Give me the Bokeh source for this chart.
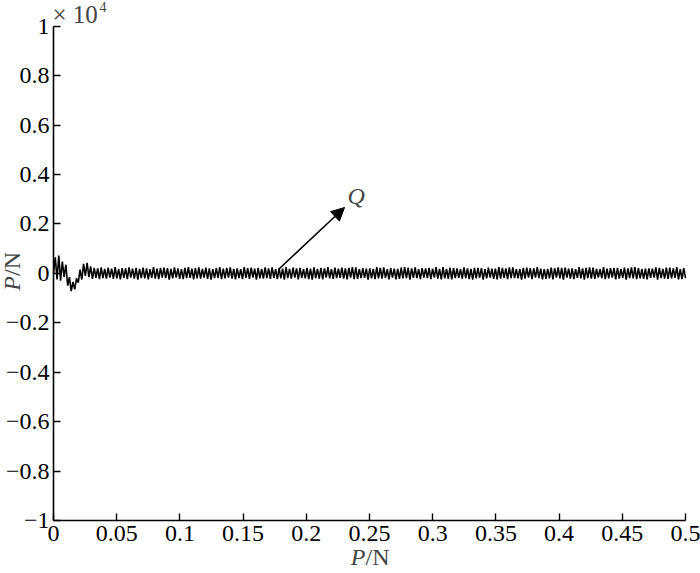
import numpy as np
from bokeh.plotting import figure
from bokeh.models import Label, Arrow, NormalHead, FixedTicker, Range1d
from bokeh.embed import file_html
from bokeh.resources import INLINE

# ---------------- data ----------------
x_ticks = [0, 0.05, 0.1, 0.15, 0.2, 0.25, 0.3, 0.35, 0.4, 0.45, 0.5]
x_tick_labels = ["0", "0.05", "0.1", "0.15", "0.2", "0.25", "0.3", "0.35", "0.4", "0.45", "0.5"]
y_ticks = [-1, -0.8, -0.6, -0.4, -0.2, 0, 0.2, 0.4, 0.6, 0.8, 1]
y_tick_labels = ["\u22121", "\u22120.8", "\u22120.6", "\u22120.4", "\u22120.2", "0",
                 "0.2", "0.4", "0.6", "0.8", "1"]

# start-up transient (N), sampled every 0.0014 s
transient_force = [0, 650, -250, 720, -300, 480, -150, 350, -500, -150, -720, -350,
                   -650, -200, -380, 150, -250, 380, -100, 420, -150, 280, -220]
# steady oscillation extremes (N) up to t = 0.5 s
steady_force = [
    220, -180, 200, -230, 240, -190, 180, -210, 230, -170,
    190, -220, 250, -200, 170, -240, 210, -180, 200, -230,
    240, -170, 190, -210, 220, -250, 180, -190, 230, -200,
    200, -240, 170, -180, 250, -210, 190, -230, 220, -170,
    230, -190, 210, -250, 180, -200, 240, -170, 200, -220,
    170, -230, 220, -190, 250, -180, 190, -240, 210, -200,
    240, -210, 180, -170, 230, -220, 200, -250, 170, -190,
    210, -180, 250, -230, 190, -200, 220, -170, 240, -210,
    180, -240, 200, -190, 170, -230, 250, -180, 210, -220,
    230, -170, 190, -250, 220, -200, 180, -210, 240, -190,
    200, -220, 240, -180, 170, -230, 210, -200, 190, -250,
    250, -190, 180, -210, 230, -170, 200, -240, 220, -180,
    170, -200, 220, -230, 190, -250, 240, -190, 180, -210,
    220, -240, 200, -170, 250, -200, 170, -220, 230, -190,
    190, -180, 230, -210, 200, -240, 220, -170, 250, -230,
    240, -220, 170, -190, 210, -180, 190, -250, 200, -200,
    180, -230, 250, -200, 220, -210, 240, -180, 170, -240,
    210, -170, 190, -240, 180, -220, 230, -200, 250, -190,
    230, -250, 200, -180, 240, -190, 170, -230, 210, -170,
    200, -190, 220, -230, 190, -170, 250, -210, 180, -240,
    250, -200, 180, -220, 230, -240, 210, -190, 200, -180,
    170, -210, 240, -190, 200, -230, 180, -250, 220, -200,
    220, -180, 210, -250, 170, -200, 230, -170, 190, -220,
    190, -240, 250, -210, 220, -180, 200, -230, 240, -190,
    240, -190, 170, -200, 180, -250, 220, -210, 230, -170,
    210, -230, 200, -170, 250, -190, 190, -240, 170, -220,
    180, -200, 230, -240, 210, -170, 240, -200, 220, -250,
    230, -170, 190, -210, 200, -230, 170, -180, 250, -200,
    200, -250, 220, -190, 240, -210, 230, -220, 180, -170,
    170, -190, 250, -230, 190, -200, 210, -170, 220, -240,
    220, -210, 180, -180, 230, -250, 200, -190, 240, -200,
    250, -230, 210, -200, 170, -220, 190, -240, 200, -180,
    190, -170, 240, -250, 220, -190, 180, -210, 230, -220,
    230, -200, 200, -180, 250, -240, 170, -230, 210, -190,
]
sample_step = 0.0014
t_min, t_max = 0.0, 0.5
y_min, y_max = -1.0, 1.0
force_scale = 1e4

# ---------------- layout (pixels) ----------------
W, H = 700, 573
AX_L, AX_R = 53, 685      # x pixel of t_min / t_max
AX_T, AX_B = 25.7, 520    # y pixel of y_max / y_min
sx = (AX_R - AX_L) / (t_max - t_min)
sy = (AX_B - AX_T) / (y_max - y_min)

def dx(px):
    return t_min + (px - AX_L) / sx

def dy(py):
    return y_min + (AX_B - py) / sy

# ---------------- build ----------------
t_trans = np.arange(len(transient_force)) * sample_step
t_steady = np.linspace(t_trans[-1] + sample_step, t_max, len(steady_force))
t = np.concatenate([t_trans, t_steady])
force = np.concatenate([np.array(transient_force, float),
                        np.array(steady_force, float)]) / force_scale

p = figure(width=W, height=H,
           x_range=Range1d(dx(0), dx(W)), y_range=Range1d(dy(H), dy(0)),
           output_backend="svg", toolbar_location=None,
           min_border=0, min_border_left=0, min_border_right=0,
           min_border_top=0, min_border_bottom=0)
p.outline_line_color = None
p.xgrid.grid_line_color = None
p.ygrid.grid_line_color = None
p.background_fill_color = "white"
p.border_fill_color = "white"

p.line(t, force, line_color="black", line_width=1.6)

FONT = "Liberation Serif"
p.xaxis.ticker = FixedTicker(ticks=x_ticks)
p.yaxis.ticker = FixedTicker(ticks=y_ticks)
p.xaxis.major_label_overrides = dict(zip(x_ticks, x_tick_labels))
p.yaxis.major_label_overrides = dict(zip(y_ticks, y_tick_labels))
p.xaxis.fixed_location = y_min
p.yaxis.fixed_location = t_min
p.xaxis.bounds = (t_min, t_max)
p.yaxis.bounds = (y_min, y_max)
for ax in (p.xaxis[0], p.yaxis[0]):
    ax.axis_line_color = "black"
    ax.axis_line_width = 1.6
    ax.major_tick_line_color = "black"
    ax.major_tick_line_width = 1.4
    ax.major_tick_in = 7
    ax.major_tick_out = 0
    ax.minor_tick_line_color = None
    ax.major_label_text_font = FONT
    ax.major_label_text_font_size = "24px"
    ax.major_label_text_color = "black"
p.xaxis.major_label_standoff = 5
p.yaxis.major_label_standoff = 4

# axis titles (italic P / upright N)
p.add_layout(Label(x=dx(365), y=dy(556), text="P", text_font=FONT, text_font_style="italic",
                   text_font_size="24px", text_align="right", text_baseline="alphabetic"))
p.add_layout(Label(x=dx(365), y=dy(556), text="/N", text_font=FONT,
                   text_font_size="24px", text_align="left", text_baseline="alphabetic"))
p.add_layout(Label(x=dx(11), y=dy(275.5), text="P", text_font=FONT, text_font_style="italic",
                   text_font_size="24px", text_align="right", text_baseline="alphabetic",
                   angle=90, angle_units="deg"))
p.add_layout(Label(x=dx(11), y=dy(275.5), text="/N", text_font=FONT,
                   text_font_size="24px", text_align="left", text_baseline="alphabetic",
                   angle=90, angle_units="deg"))

# exponent
p.add_layout(Label(x=dx(52), y=dy(14), text="\u00d7 10", text_font=FONT,
                   text_font_size="25px", text_align="left", text_baseline="alphabetic"))
p.add_layout(Label(x=dx(99), y=dy(6), text="4", text_font=FONT,
                   text_font_size="14px", text_align="left", text_baseline="alphabetic"))

# arrow and Q
p.add_layout(Arrow(x_start=dx(279), y_start=dy(268), x_end=dx(344), y_end=dy(207),
                   line_color="black", line_width=1.6,
                   end=NormalHead(size=13, fill_color="black", line_color="black", line_width=1)))
p.add_layout(Label(x=dx(347), y=dy(195), text="Q", text_font=FONT, text_font_style="italic",
                   text_font_size="24px", text_align="left", text_baseline="alphabetic"))

open("out.html", "w").write(file_html(p, INLINE))
